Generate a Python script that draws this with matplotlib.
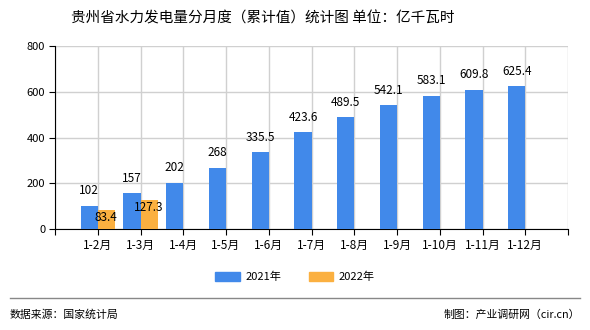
import matplotlib
matplotlib.use("Agg")
import matplotlib.pyplot as plt
from matplotlib.patches import Patch
import numpy as np

plt.rcParams['font.family'] = ['Noto Sans CJK SC', 'DejaVu Sans']

categories = ["1-2月", "1-3月", "1-4月", "1-5月", "1-6月", "1-7月", "1-8月", "1-9月", "1-10月", "1-11月", "1-12月"]
values_2021 = [102, 157, 202, 268, 335.5, 423.6, 489.5, 542.1, 583.1, 609.8, 625.4]
labels_2021 = ["102", "157", "202", "268", "335.5", "423.6", "489.5", "542.1", "583.1", "609.8", "625.4"]
values_2022 = [83.4, 127.3]
labels_2022 = ["83.4", "127.3"]
series_names = ["2021年", "2022年"]
yticks = [0, 200, 400, 600, 800]

blue = "#4189EA"
orange = "#FBB040"

W, H = 590, 330
fig = plt.figure(figsize=(W / 100, H / 100), dpi=100)
ax = fig.add_axes([55 / W, 1 - 229 / H, (568 - 55) / W, (229 - 46) / H])

x = np.arange(len(categories))
bw = 0.4
ax.bar(x - bw / 2, values_2021, width=bw, color=blue, zorder=3)
x2 = x[:len(values_2022)]
ax.bar(x2 + bw / 2, values_2022, width=bw, color=orange, zorder=3)

for xi, v, lab in zip(x, values_2021, labels_2021):
    ax.annotate(lab, (xi - bw / 2, v), xytext=(0, 6), textcoords='offset points',
                ha='center', va='bottom', fontsize=8.5, zorder=4)
for xi, v, lab in zip(x2, values_2022, labels_2022):
    ax.annotate(lab, (xi + bw / 2, v), xytext=(0, -1), textcoords='offset points',
                ha='center', va='top', fontsize=8.5, zorder=4)

ax.set_xlim(-1, len(categories))
ax.set_ylim(0, 800)
ax.set_yticks(yticks)
ax.set_yticklabels([str(t) for t in yticks], fontsize=8)
ax.set_xticks(np.arange(-1, len(categories) + 1))
ax.set_xticklabels([""] + categories + [""], fontsize=8.5)
ax.grid(True, color="#D0D0D0", linewidth=1, zorder=0)
ax.set_axisbelow(True)
for s in ["top", "right"]:
    ax.spines[s].set_visible(False)
ax.spines["left"].set_color("black")
ax.spines["bottom"].set_color("black")
ax.tick_params(axis='both', length=4, color='black', pad=3)

fig.text(0.445, 1 - 18 / H, "贵州省水力发电量分月度（累计值）统计图 单位：亿千瓦时",
         ha='center', va='center', fontsize=10.5)

handles = [Patch(color=blue), Patch(color=orange)]
fig.legend(handles, series_names, loc='center', bbox_to_anchor=(0.5, 1 - 277 / H),
           ncol=2, frameon=False, fontsize=8, handlelength=2.2, handleheight=0.8,
           columnspacing=2.5, handletextpad=0.5)

fig.add_artist(plt.Line2D([10 / W, 580 / W], [1 - 298 / H, 1 - 298 / H],
                          color="#888888", linewidth=1))
fig.text(10 / W, 1 - 315 / H, "数据来源：国家统计局", ha='left', va='center', fontsize=7.8)
fig.text(580 / W, 1 - 315 / H, "制图：产业调研网（cir.cn）", ha='right', va='center', fontsize=7.8)

fig.savefig("out.png", dpi=100)
